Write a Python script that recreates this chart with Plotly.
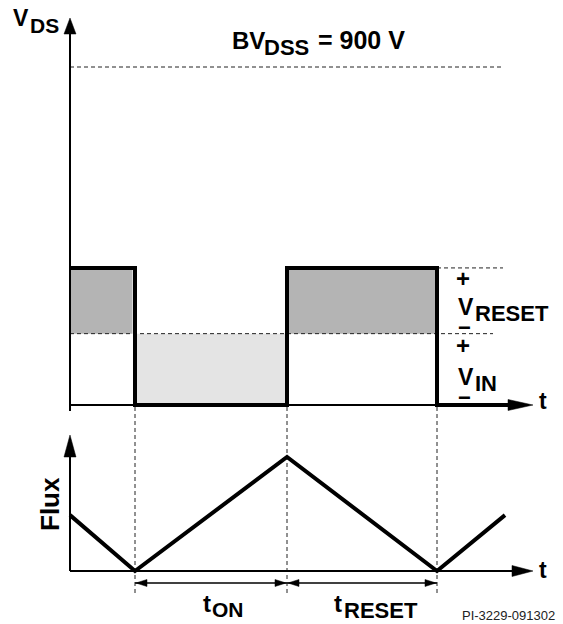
import plotly.graph_objects as go

# ---------------- data ----------------
BV_DSS = 900          # V
V_IN = 190            # V
V_RESET = 175         # V
V_HIGH = V_IN + V_RESET

# switching instants (arbitrary time units)
t_events = [0.65, 2.17, 3.67]          # turn-on, turn-off, end of reset
vds_t = [0.0, 0.65, 0.65, 2.17, 2.17, 3.67, 3.67, 4.38]
vds_v = [V_HIGH, V_HIGH, 0, 0, V_HIGH, V_HIGH, 0, 0]

flux_t = [0.0, 0.65, 2.17, 3.67, 4.35]
flux_v = [0.49, 0.0, 1.0, 0.0, 0.49]

# ---------------- geometry ----------------
W, H = 563, 624
XR = [-0.70, 4.93]
YR1 = [-583.1, 1078.4]
YR2 = [-0.4649, 5.0088]

def px(t):
    return (t - XR[0]) / (XR[1] - XR[0]) * W

def pyv(v):
    return H - (v - YR1[0]) / (YR1[1] - YR1[0]) * H

def pyf(f):
    return H - (f - YR2[0]) / (YR2[1] - YR2[0]) * H

def v_of_py(p):
    return YR1[0] + (H - p) / H * (YR1[1] - YR1[0])

def f_of_py(p):
    return YR2[0] + (H - p) / H * (YR2[1] - YR2[0])

def t_of_px(p):
    return XR[0] + p / W * (XR[1] - XR[0])

FONT = "Liberation Sans, Arial, sans-serif"
BLACK = "#000000"
DASH = "4px,3px"

fig = go.Figure()
shapes = []
ann = []

# shaded areas
shapes.append(dict(type="rect", xref="x", yref="y", x0=0, x1=t_events[0] - 0.025,
                   y0=V_IN, y1=V_HIGH, fillcolor="#b4b4b4", line_width=0, layer="below"))
shapes.append(dict(type="rect", xref="x", yref="y", x0=t_events[1], x1=t_events[2],
                   y0=V_IN, y1=V_HIGH, fillcolor="#b4b4b4", line_width=0, layer="below"))
shapes.append(dict(type="rect", xref="x", yref="y", x0=t_events[0], x1=t_events[1],
                   y0=0, y1=V_IN, fillcolor="#e4e4e4", line_width=0, layer="below"))

# dashed reference lines
def dline(x0, x1, y0, y1, yref="y"):
    fig.add_trace(go.Scatter(x=[x0, x1], y=[y0, y1], mode="lines", yaxis="y" if yref == "y" else "y2",
                             line=dict(color="#222", width=1, dash=DASH), hoverinfo="skip"))

dline(0, 4.33, BV_DSS, BV_DSS)
dline(0, 4.23, V_IN, V_IN)
dline(t_events[2], 4.33, V_HIGH, V_HIGH)
for te in t_events:
    dline(te, te, f_of_py(407), f_of_py(593), yref="y2")

# axes lines
def sline(xs, ys, yax, width):
    fig.add_trace(go.Scatter(x=xs, y=ys, mode="lines", yaxis=yax,
                             line=dict(color=BLACK, width=width), hoverinfo="skip"))

sline([0, 0], [v_of_py(411), v_of_py(32)], "y", 2)
sline([0, t_of_px(510)], [0, 0], "y", 2)
sline([0, 0], [0, f_of_py(455)], "y2", 2)
sline([0, t_of_px(515)], [0, 0], "y2", 2)

# waveforms
fig.add_trace(go.Scatter(x=vds_t, y=vds_v, mode="lines", yaxis="y",
                         line=dict(color=BLACK, width=4), hoverinfo="skip"))
fig.add_trace(go.Scatter(x=flux_t, y=flux_v, mode="lines", yaxis="y2",
                         line=dict(color=BLACK, width=4), hoverinfo="skip"))

# arrowheads (paper coordinates from pixel geometry)
def tri(tipx, tipy, direction, length, width):
    if direction == "up":
        pts = [(tipx, tipy), (tipx - width / 2, tipy + length), (tipx + width / 2, tipy + length)]
    elif direction == "right":
        pts = [(tipx, tipy), (tipx - length, tipy - width / 2), (tipx - length, tipy + width / 2)]
    elif direction == "left":
        pts = [(tipx, tipy), (tipx + length, tipy - width / 2), (tipx + length, tipy + width / 2)]
    path = "M " + " L ".join(f"{x / W:.5f},{1 - y / H:.5f}" for x, y in pts) + " Z"
    shapes.append(dict(type="path", xref="paper", yref="paper", path=path,
                       fillcolor=BLACK, line=dict(color=BLACK, width=0.5)))

tri(px(0), 18, "up", 16, 12)
tri(533, pyv(0), "right", 25, 11)
tri(px(0), 435, "up", 22, 12)
tri(533, pyf(0), "right", 21, 11)

# duration double arrows
y_arr = f_of_py(583)
for a, b in [(t_events[0], t_events[1]), (t_events[1], t_events[2])]:
    sline([a, b], [y_arr, y_arr], "y2", 1.5)
    tri(px(a) + 1, pyf(y_arr), "left", 11, 7)
    tri(px(b) - 1, pyf(y_arr), "right", 11, 7)

# text labels
def txt(s, x, y, size, xanchor="left", weight="bold", angle=0, color=BLACK):
    ann.append(dict(text=s, x=x / W, y=1 - y / H, xref="paper", yref="paper",
                    xanchor=xanchor, yanchor="middle", showarrow=False, textangle=angle,
                    font=dict(family=FONT, size=size, color=color, weight=weight)))

txt("V", 11, 18, 23)
txt("DS", 28, 26, 21)
txt("BV", 230, 40, 24)
txt("DSS", 262, 48, 22)
txt("= 900 V", 316, 40, 25)

txt("+", 463, 278, 24, xanchor="center")
txt("V", 456, 307, 23)
txt("RESET", 473, 313, 22)
txt("−", 464, 327, 22, xanchor="center")
txt("+", 463, 345, 24, xanchor="center")
txt("V", 456, 377, 23)
txt("IN", 473, 383, 22)
txt("−", 464, 397, 22, xanchor="center")

txt("t", 537, 401, 23)
txt("t", 537, 570, 23)
txt("Flux", 50, 504, 26, xanchor="center", angle=-90)

txt("t", 201, 603, 24)
txt("ON", 210, 609, 21)
txt("t", 332, 603, 24)
txt("RESET", 342, 610, 22)
txt("PI-3229-091302", 557, 615, 13, xanchor="right", weight="normal", color="#222")

fig.update_layout(
    width=W, height=H, margin=dict(l=0, r=0, t=0, b=0),
    paper_bgcolor="white", plot_bgcolor="white", showlegend=False,
    xaxis=dict(range=XR, visible=False, fixedrange=True),
    yaxis=dict(range=YR1, visible=False, fixedrange=True, domain=[0, 1]),
    yaxis2=dict(range=YR2, visible=False, fixedrange=True, overlaying="y"),
    shapes=shapes, annotations=ann,
)

fig.write_html("out.html", config={"displayModeBar": False})
